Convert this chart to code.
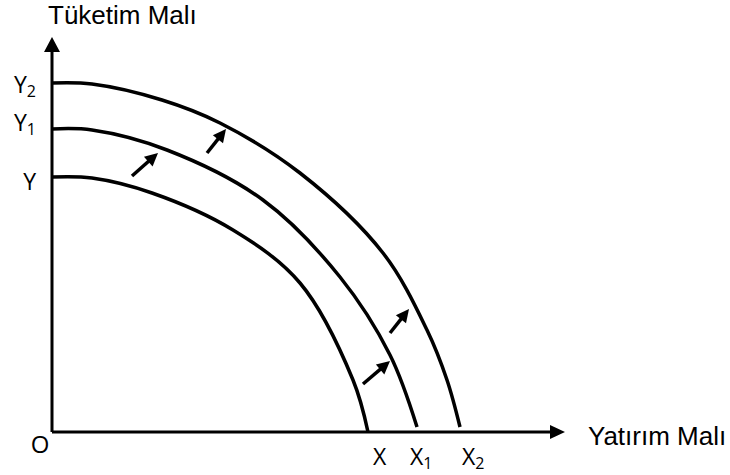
<!DOCTYPE html>
<html>
<head>
<meta charset="utf-8">
<script src="https://cdn.jsdelivr.net/npm/d3@7"></script>
<style>
	body { margin: 0; background: #fff; }
</style>
</head>
<body>
<div id="chart"></div>
<script>
// Production possibility curves (origin at O)
const curveY = [[0, 255], [40, 254], [100, 239], [181, 202], [248, 149], [301, 52], [316, 0]]
const curveY1 = [[0, 303], [40, 302], [115, 282], [211, 232], [288, 155], [338, 77], [365, 5]]
const curveY2 = [[0, 349], [40, 348], [110, 332], [168, 309], [248, 259], [331, 179], [375, 102], [395, 52], [408, 5]]

// shift arrows: [tail, tip]
const shiftArrows = [
	[[80, 256], [106, 279]],
	[[155, 279], [174, 303]],
	[[311, 48], [338, 71]],
	[[338, 99], [357, 123]],
]

const yTicks = [
	{ label: "Y", sub: "", value: 250.5 },
	{ label: "Y", sub: "1", value: 309.5 },
	{ label: "Y", sub: "2", value: 347.5 },
]
const xTicks = [
	{ label: "X", sub: "", value: 321 },
	{ label: "X", sub: "1", value: 358 },
	{ label: "X", sub: "2", value: 410 },
]
const yTitle = "Tüketim Malı"
const xTitle = "Yatırım Malı"
const originLabel = "O"

const width = 730
const height = 475
const margin = { top: 37, right: 165, bottom: 43, left: 52 }

const svg = d3
	.select("#chart")
	.append("svg")
	.attr("width", width)
	.attr("height", height)

const xScale = d3
	.scaleLinear()
	.domain([0, 513])
	.range([margin.left, width - margin.right])

const yScale = d3
	.scaleLinear()
	.domain([0, 395])
	.range([height - margin.bottom, margin.top])

// filled triangle head at tip, pointing away from "from"
const arrowHead = (from, tip, len, halfW) => {
	const dx = tip[0] - from[0]
	const dy = tip[1] - from[1]
	const d = Math.hypot(dx, dy)
	const ux = dx / d
	const uy = dy / d
	const bx = tip[0] - ux * len
	const by = tip[1] - uy * len
	return [
		[tip[0], tip[1]],
		[bx - uy * halfW, by + ux * halfW],
		[bx + uy * halfW, by - ux * halfW],
	]
}

const drawArrow = (from, tip, len, halfW, stroke) => {
	const head = arrowHead(from, tip, len, halfW)
	const dx = tip[0] - from[0]
	const dy = tip[1] - from[1]
	const d = Math.hypot(dx, dy)
	svg.append("line")
		.attr("x1", from[0])
		.attr("y1", from[1])
		.attr("x2", tip[0] - (dx / d) * (len - 2))
		.attr("y2", tip[1] - (dy / d) * (len - 2))
		.attr("stroke", "#000")
		.attr("stroke-width", stroke)
	svg.append("polygon")
		.attr("points", head.map((p) => p.join(",")).join(" "))
		.attr("fill", "#000")
}

// Axes
const o = [xScale(0), yScale(0)]
drawArrow(o, [xScale(0), yScale(395)], 15, 8, 3)
drawArrow(o, [xScale(513), yScale(0)], 15, 7, 3)

// Curves
const line = d3
	.line()
	.x((d) => xScale(d[0]))
	.y((d) => yScale(d[1]))
	.curve(d3.curveCatmullRom.alpha(0.5))

;[curveY, curveY1, curveY2].forEach((c) => {
	svg.append("path")
		.datum(c)
		.attr("fill", "none")
		.attr("stroke", "#000")
		.attr("stroke-width", 3.5)
		.attr("d", line)
})

// Shift arrows
shiftArrows.forEach((a) => {
	drawArrow(
		[xScale(a[0][0]), yScale(a[0][1])],
		[xScale(a[1][0]), yScale(a[1][1])],
		13,
		6.5,
		3.5
	)
})

// Tick labels
const labelFont = "'Open Sans', sans-serif"

yTicks.forEach((t) => {
	const txt = svg
		.append("text")
		.attr("x", 36)
		.attr("y", yScale(t.value) + 8)
		.attr("text-anchor", "end")
		.style("font-family", labelFont)
		.style("font-size", "23px")
	txt.append("tspan").text(t.label)
	if (t.sub) {
		txt.append("tspan").attr("dy", 4).style("font-size", "16px").text(t.sub)
	}
})

xTicks.forEach((t) => {
	const txt = svg
		.append("text")
		.attr("x", xScale(t.value))
		.attr("y", 465)
		.style("font-family", labelFont)
		.style("font-size", "23px")
	txt.append("tspan").text(t.label)
	if (t.sub) {
		txt.append("tspan").attr("dy", 4).style("font-size", "16px").text(t.sub)
	}
})

svg.append("text")
	.attr("x", 40)
	.attr("y", 453)
	.attr("text-anchor", "middle")
	.style("font-family", labelFont)
	.style("font-size", "24px")
	.text(originLabel)

// Axis titles
svg.append("text")
	.attr("x", 48)
	.attr("y", 24)
	.style("font-family", "'Liberation Sans', Arial, sans-serif")
	.style("font-size", "26px")
	.text(yTitle)

svg.append("text")
	.attr("x", 588)
	.attr("y", 445)
	.style("font-family", "'Liberation Sans', Arial, sans-serif")
	.style("font-size", "26px")
	.text(xTitle)
</script>
</body>
</html>
